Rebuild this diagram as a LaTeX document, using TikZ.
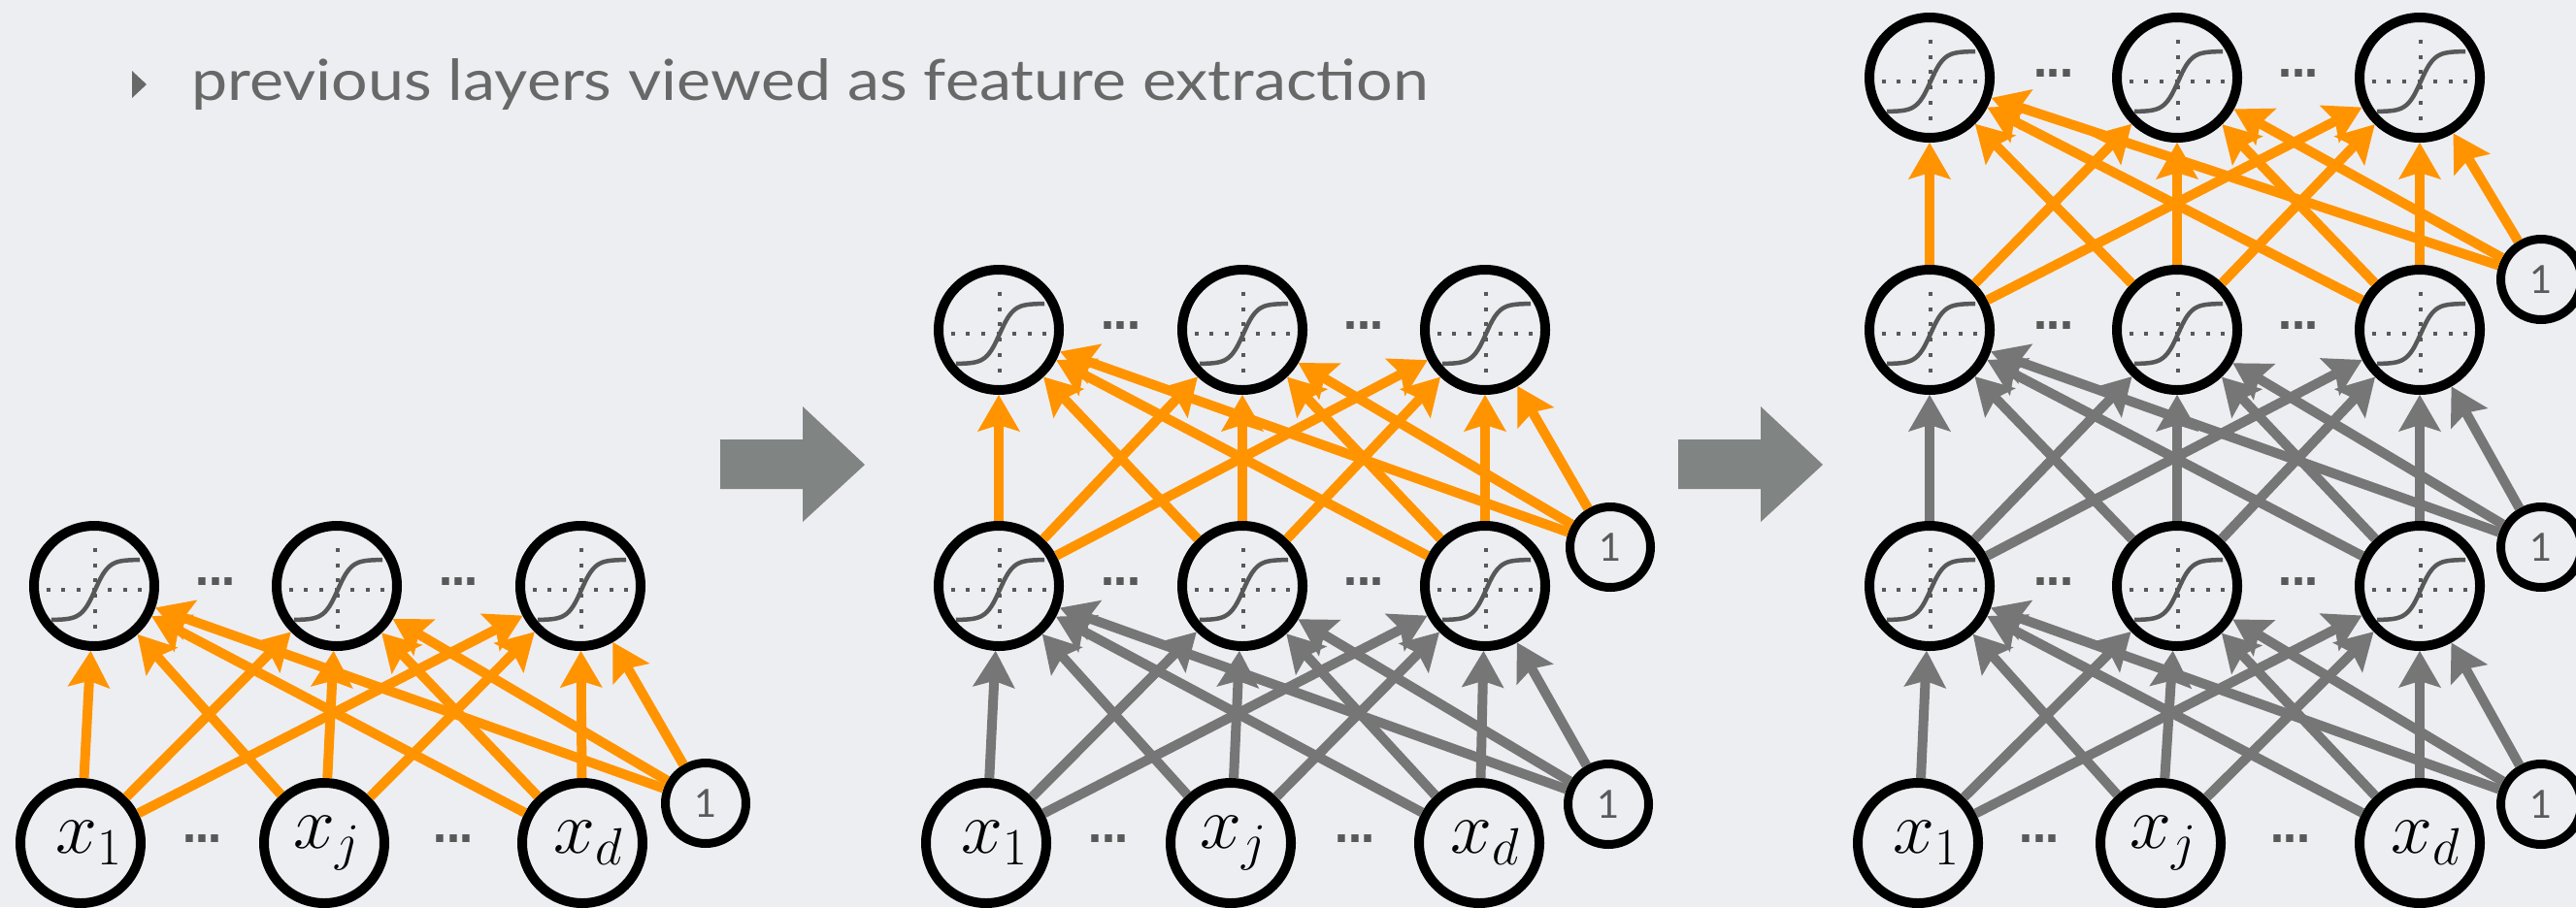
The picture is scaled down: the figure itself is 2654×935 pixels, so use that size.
\RequirePackage{fix-cm}
\documentclass[tikz,border=0pt]{standalone}
\usepackage{graphicx}
\usepackage{fontspec}
\usetikzlibrary{arrows.meta}

\newfontfamily\headfont{Lato}
\newfontfamily\dotfont{DejaVu Sans}

\definecolor{bgcol}{RGB}{237,238,242}
\definecolor{orangecol}{RGB}{255,148,0}
\definecolor{linkgray}{RGB}{118,118,118}
\definecolor{curvegray}{RGB}{88,88,88}
\definecolor{dotgray}{RGB}{88,88,88}
\definecolor{blockgray}{RGB}{128,133,131}
\definecolor{headgray}{RGB}{104,104,104}
\definecolor{onegray}{RGB}{90,90,90}

\tikzset{
  neuron/.style={circle, draw=black, line width=10pt, minimum size=124pt,
    inner sep=0pt, font=\fontsize{77}{80}\selectfont},
  biasunit/.style={circle, draw=black, line width=9pt, minimum size=83pt,
    inner sep=0pt, text=onegray, font=\headfont\fontsize{40}{40}\selectfont},
  wire/.style={line width=10pt,
    -{Stealth[length=38pt,width=44pt,inset=7pt,line width=0pt]}},
  newlink/.style={wire, draw=orangecol},
  oldlink/.style={wire, draw=linkgray},
  ellip/.style={inner sep=0pt, text=dotgray,
    font=\dotfont\bfseries\fontsize{42}{42}\selectfont},
  axisdots/.style={draw=dotgray, line width=4pt, dash pattern=on 4pt off 11.8pt},
  sigmoid/.pic={
    \draw[axisdots] (-50.4,0) -- (50,0);
    \draw[axisdots] (0,-43.3) -- (0,42);
    \draw[curvegray, line width=4.5pt]
      plot[domain=-45:46, samples=41, smooth] (\x,{-31*tanh(\x/14)});
  },
}

% a sigmoid unit: name, x, y
\newcommand\sigunit[3]{%
  \node[neuron] (#1) at (#2,#3) {};
  \pic at ([shift={(1,4)}]#1.center) {sigmoid};}
% ellipsis between two units of a row: name, left x, right x, y
\newcommand\rowdots[4]{%
  \node[ellip] (#1) at ({(#2+#3)/2},{#4-4}) {.\kern-2.5pt.\kern-2.5pt.};}

\begin{document}
\begin{tikzpicture}[x=1pt, y=-1pt]
\useasboundingbox (0,0) rectangle (2654,935);
\fill[bgcol] (0,0) rectangle (2654,935);

% heading
\fill[headgray] (136,73) -- (151,87) -- (136,101) -- cycle;
\node[anchor=base west, inner sep=0pt, text=headgray] (title) at (197,103)
  {\resizebox{1274pt}{43pt}{\headfont previous layers viewed as feature extraction}};

% ---------------- first network: one hidden layer ----------------
\sigunit{As1}{97}{604}
\sigunit{As2}{347}{604}
\sigunit{As3}{598}{604}
\node[neuron] (Ax1) at (83,869) {\hspace*{18pt}$x_1$};
\node[neuron] (Axj) at (334,869) {\hspace*{6pt}$x_j$};
\node[neuron] (Axd) at (600,869) {\hspace*{12pt}$x_d$};
\node[biasunit] (Ab) at (727,828) {1};
\rowdots{Ad1}{97}{347}{604}
\rowdots{Ad2}{347}{598}{604}
\rowdots{Ad3}{83}{334}{869}
\rowdots{Ad4}{334}{600}{869}
\foreach \t in {As1,As2,As3}{\foreach \f in {Ax1,Axj,Axd,Ab}{\draw[newlink] (\f) -- (\t);}}

% block arrows
\fill[blockgray] (742,453) -- (827,453) -- (827,419) -- (891,479) -- (827,538)
  -- (827,504) -- (742,504) -- cycle;
\fill[blockgray] (1729,453) -- (1814,453) -- (1814,419) -- (1878,479) -- (1814,538)
  -- (1814,504) -- (1729,504) -- cycle;

% ---------------- second network: two hidden layers ----------------
\sigunit{Bs1}{1029}{340}
\sigunit{Bs2}{1280}{340}
\sigunit{Bs3}{1530}{340}
\sigunit{Bh1}{1029}{604}
\sigunit{Bh2}{1280}{604}
\sigunit{Bh3}{1530}{604}
\node[neuron] (Bx1) at (1016,869) {\hspace*{18pt}$x_1$};
\node[neuron] (Bxj) at (1268,869) {\hspace*{6pt}$x_j$};
\node[neuron] (Bxd) at (1524,869) {\hspace*{12pt}$x_d$};
\node[biasunit] (Bb2) at (1659,564) {1};
\node[biasunit] (Bb1) at (1657,829) {1};
\rowdots{Bd1}{1029}{1280}{340}
\rowdots{Bd2}{1280}{1530}{340}
\rowdots{Bd3}{1029}{1280}{604}
\rowdots{Bd4}{1280}{1530}{604}
\rowdots{Bd5}{1016}{1268}{869}
\rowdots{Bd6}{1268}{1524}{869}
\foreach \t in {Bh1,Bh2,Bh3}{\foreach \f in {Bx1,Bxj,Bxd,Bb1}{\draw[oldlink] (\f) -- (\t);}}
\foreach \t in {Bs1,Bs2,Bs3}{\foreach \f in {Bh1,Bh2,Bh3,Bb2}{\draw[newlink] (\f) -- (\t);}}

% ---------------- third network: three hidden layers ----------------
\sigunit{Cs1}{1988}{80}
\sigunit{Cs2}{2243}{80}
\sigunit{Cs3}{2493}{80}
\sigunit{Cg1}{1988}{340}
\sigunit{Cg2}{2243}{340}
\sigunit{Cg3}{2493}{340}
\sigunit{Ch1}{1988}{604}
\sigunit{Ch2}{2243}{604}
\sigunit{Ch3}{2493}{604}
\node[neuron] (Cx1) at (1976,869) {\hspace*{18pt}$x_1$};
\node[neuron] (Cxj) at (2226,869) {\hspace*{6pt}$x_j$};
\node[neuron] (Cxd) at (2493,869) {\hspace*{12pt}$x_d$};
\node[biasunit] (Cb3) at (2618,288) {1};
\node[biasunit] (Cb2) at (2618,564) {1};
\node[biasunit] (Cb1) at (2618,829) {1};
\rowdots{Cd1}{1988}{2243}{80}
\rowdots{Cd2}{2243}{2493}{80}
\rowdots{Cd3}{1988}{2243}{340}
\rowdots{Cd4}{2243}{2493}{340}
\rowdots{Cd5}{1988}{2243}{604}
\rowdots{Cd6}{2243}{2493}{604}
\rowdots{Cd7}{1976}{2226}{869}
\rowdots{Cd8}{2226}{2493}{869}
\foreach \t in {Ch1,Ch2,Ch3}{\foreach \f in {Cx1,Cxj,Cxd,Cb1}{\draw[oldlink] (\f) -- (\t);}}
\foreach \t in {Cg1,Cg2,Cg3}{\foreach \f in {Ch1,Ch2,Ch3,Cb2}{\draw[oldlink] (\f) -- (\t);}}
\foreach \t in {Cs1,Cs2,Cs3}{\foreach \f in {Cg1,Cg2,Cg3,Cb3}{\draw[newlink] (\f) -- (\t);}}
\end{tikzpicture}
\end{document}
